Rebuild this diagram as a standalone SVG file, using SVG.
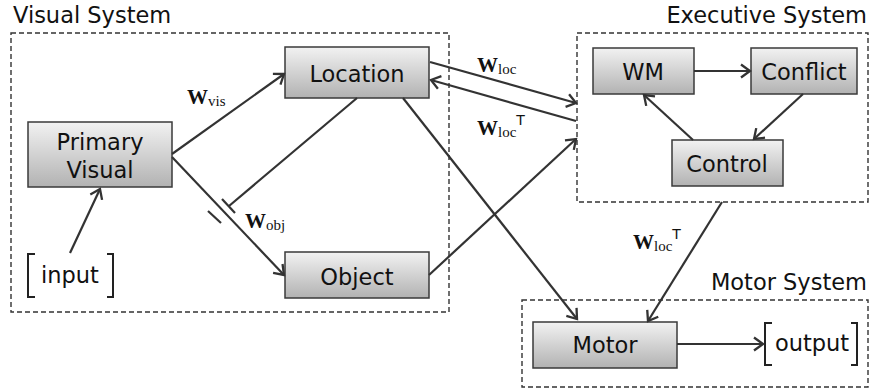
<svg xmlns="http://www.w3.org/2000/svg" width="871" height="389" viewBox="0 0 871 389">
<defs>
<linearGradient id="g" x1="0" y1="0" x2="0" y2="1">
<stop offset="0" stop-color="#f2f2f2"/>
<stop offset="1" stop-color="#b2b2b2"/>
</linearGradient>
<marker id="a" markerUnits="userSpaceOnUse" markerWidth="24" markerHeight="24" refX="12" refY="12" orient="auto" viewBox="0 0 24 24">
<path d="M3,5.5 L12,12 L3,18.5" fill="none" stroke="#333" stroke-width="2.3" stroke-linejoin="miter"/>
</marker>
</defs>
<style>
.sys{fill:none;stroke:#333;stroke-width:1.4;stroke-dasharray:5,3}
.node rect{fill:url(#g);stroke:#3a3a3a;stroke-width:1.5}
.t{font-family:"DejaVu Sans",sans-serif;font-size:22.5px;fill:#111}
.title{font-family:"DejaVu Sans",sans-serif;font-size:22.5px;fill:#111}
.ln{stroke:#333;stroke-width:2.2;fill:none}
.arr{marker-end:url(#a)}
.W{font-family:"Liberation Serif",serif;font-weight:bold;font-size:21px;fill:#111}
.sub{font-family:"Liberation Serif",serif;font-size:15px;fill:#111}
.sup{font-family:"DejaVu Sans",sans-serif;font-size:14px;fill:#111}
.br{fill:none;stroke:#222;stroke-width:2}
</style>

<g id="visual-system">
<rect class="sys" x="11" y="33" width="438" height="279"/>
<text class="title" x="13" y="23">Visual System</text>
</g>
<g id="executive-system">
<rect class="sys" x="577" y="33" width="291" height="169"/>
<text class="title" x="867" y="23" text-anchor="end">Executive System</text>
</g>
<g id="motor-system">
<rect class="sys" x="522" y="300" width="346" height="87"/>
<text class="title" x="867" y="290" text-anchor="end">Motor System</text>
</g>

<g id="primary-visual" class="node">
<rect x="28" y="122" width="144" height="65"/>
<text class="t" x="100" y="150" text-anchor="middle">Primary</text>
<text class="t" x="100" y="178" text-anchor="middle">Visual</text>
</g>
<g id="location" class="node">
<rect x="285" y="47" width="144" height="51"/>
<text class="t" x="357" y="82" text-anchor="middle">Location</text>
</g>
<g id="object" class="node">
<rect x="285" y="252" width="144" height="46"/>
<text class="t" x="357" y="285" text-anchor="middle">Object</text>
</g>
<g id="wm" class="node">
<rect x="593" y="48" width="101" height="46"/>
<text class="t" x="643" y="80" text-anchor="middle">WM</text>
</g>
<g id="conflict" class="node">
<rect x="751" y="48" width="106" height="46"/>
<text class="t" x="804" y="80" text-anchor="middle">Conflict</text>
</g>
<g id="control" class="node">
<rect x="672" y="140" width="111" height="46"/>
<text class="t" x="727" y="172" text-anchor="middle">Control</text>
</g>
<g id="motor" class="node">
<rect x="533" y="322" width="144" height="46"/>
<text class="t" x="605" y="353" text-anchor="middle">Motor</text>
</g>
<g id="input">
<path class="br" d="M35,254 H28 V297 H35 M107,254 H113 V297 H107"/>
<text class="t" x="70" y="283" text-anchor="middle">input</text>
</g>
<g id="output">
<path class="br" d="M772,323 H765 V365 H772 M851,323 H857 V365 H851"/>
<text class="t" x="812" y="351" text-anchor="middle">output</text>
</g>

<g id="connectors">
<line class="ln arr" x1="70" y1="253" x2="100" y2="189"/>
<line class="ln arr" x1="172" y1="154" x2="284" y2="74"/>
<line class="ln arr" x1="172" y1="157" x2="284" y2="275"/>
<line class="ln" x1="357" y1="98" x2="229" y2="206"/>
<line class="ln" x1="222" y1="199" x2="235" y2="213"/>
<line class="ln" x1="208" y1="211" x2="221" y2="223"/>
<line class="ln arr" x1="403" y1="98" x2="577" y2="319"/>
<line class="ln arr" x1="430" y1="62" x2="576" y2="103"/>
<line class="ln arr" x1="576" y1="121" x2="431" y2="80"/>
<line class="ln arr" x1="429" y1="275" x2="576" y2="139"/>
<line class="ln arr" x1="694" y1="71" x2="750" y2="71"/>
<line class="ln arr" x1="803" y1="94" x2="754" y2="139"/>
<line class="ln arr" x1="693" y1="140" x2="644" y2="95"/>
<line class="ln arr" x1="722" y1="202" x2="648" y2="321"/>
<line class="ln arr" x1="677" y1="344" x2="763" y2="344"/>
</g>

<g id="labels">
<text x="187" y="104"><tspan class="W">W</tspan><tspan class="sub" dy="2">vis</tspan></text>
<text x="245" y="228"><tspan class="W">W</tspan><tspan class="sub" dy="2">obj</tspan></text>
<text x="477" y="72"><tspan class="W">W</tspan><tspan class="sub" dy="2">loc</tspan></text>
<text x="477" y="135"><tspan class="W">W</tspan><tspan class="sub" dy="2">loc</tspan><tspan class="sup" dy="-12">T</tspan></text>
<text x="633" y="249"><tspan class="W">W</tspan><tspan class="sub" dy="2">loc</tspan><tspan class="sup" dy="-12">T</tspan></text>
</g>
</svg>
